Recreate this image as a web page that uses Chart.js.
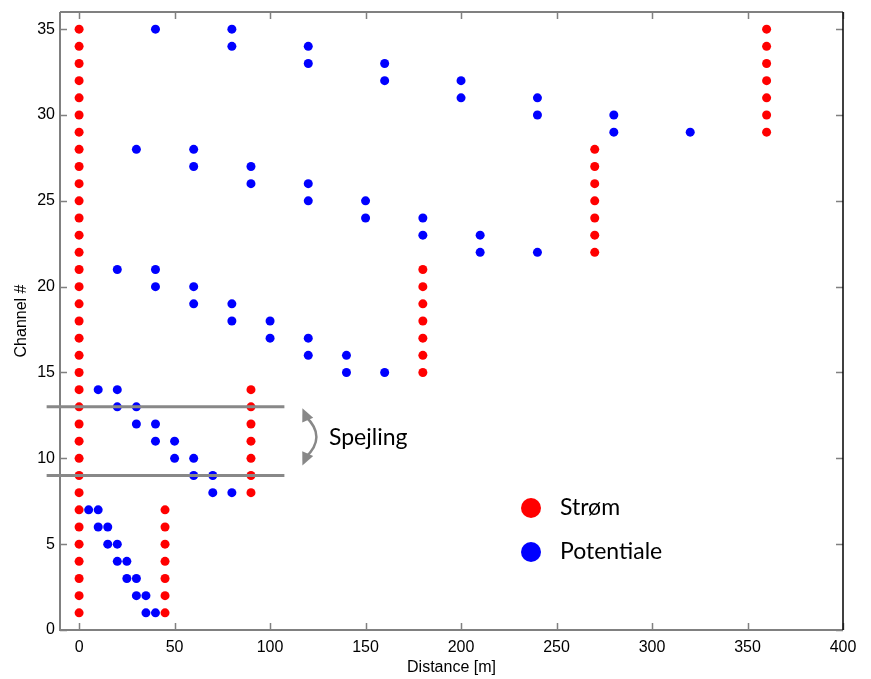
<!DOCTYPE html>
<html>
<head>
<meta charset="utf-8">
<script src="https://cdn.jsdelivr.net/npm/chart.js@4"></script>
<style>
  html, body { margin: 0; padding: 0; background: #fff; }
  #wrap { width: 871px; height: 679px; }
</style>
</head>
<body>
<div id="wrap"><canvas id="chart" width="871" height="679"></canvas></div>
<script>
// Strøm (current electrodes): distance and channel
const stromX = [
  0,0,0,0,0,0,0,0,0,0,0,0,0,0,0,0,0,0,0,0,0,0,0,0,0,0,0,0,0,0,0,0,0,0,0,
  45,45,45,45,45,45,45,
  90,90,90,90,90,90,90,
  180,180,180,180,180,180,180,
  270,270,270,270,270,270,270,
  360,360,360,360,360,360,360
];
const stromY = [
  1,2,3,4,5,6,7,8,9,10,11,12,13,14,15,16,17,18,19,20,21,22,23,24,25,26,27,28,29,30,31,32,33,34,35,
  1,2,3,4,5,6,7,
  8,9,10,11,12,13,14,
  15,16,17,18,19,20,21,
  22,23,24,25,26,27,28,
  29,30,31,32,33,34,35
];

// Potentiale: two potential electrodes per channel
const potX = [
  35,40, 30,35, 25,30, 20,25, 15,20, 10,15, 5,10,
  70,80, 60,70, 50,60, 40,50, 30,40, 20,30, 10,20,
  140,160, 120,140, 100,120, 80,100, 60,80, 40,60, 20,40,
  210,240, 180,210, 150,180, 120,150, 90,120, 60,90, 30,60,
  280,320, 240,280, 200,240, 160,200, 120,160, 80,120, 40,80
];
const potY = [
  1,1, 2,2, 3,3, 4,4, 5,5, 6,6, 7,7,
  8,8, 9,9, 10,10, 11,11, 12,12, 13,13, 14,14,
  15,15, 16,16, 17,17, 18,18, 19,19, 20,20, 21,21,
  22,22, 23,23, 24,24, 25,25, 26,26, 27,27, 28,28,
  29,29, 30,30, 31,31, 32,32, 33,33, 34,34, 35,35
];

const xTicks = [0, 50, 100, 150, 200, 250, 300, 350, 400];
const yTicks = [0, 5, 10, 15, 20, 25, 30, 35];
const mirrorLines = [13, 9];

const toPoints = (xs, ys) => xs.map((x, i) => ({ x: x, y: ys[i] }));

const frame = {
  id: 'frame',
  afterDraw(chart) {
    const c = chart.ctx, a = chart.chartArea;
    const xs = chart.scales.x, ys = chart.scales.y;
    c.save();
    // ticks pointing inward
    c.strokeStyle = '#808080';
    c.lineWidth = 1.5;
    c.beginPath();
    xTicks.forEach(v => {
      const px = Math.round(xs.getPixelForValue(v)) + 0.5;
      c.moveTo(px, a.bottom); c.lineTo(px, a.bottom - 7);
      c.moveTo(px, a.top); c.lineTo(px, a.top + 7);
    });
    yTicks.forEach(v => {
      const py = Math.round(ys.getPixelForValue(v)) + 0.5;
      c.moveTo(a.left, py); c.lineTo(a.left + 7, py);
      c.moveTo(a.right, py); c.lineTo(a.right - 7, py);
    });
    c.stroke();
    // box
    c.lineWidth = 2;
    c.strokeStyle = '#808080';
    c.beginPath();
    c.moveTo(a.left, a.top); c.lineTo(a.left, a.bottom); c.lineTo(a.right, a.bottom);
    c.moveTo(a.left, a.top); c.lineTo(a.right, a.top);
    c.stroke();
    c.strokeStyle = '#000';
    c.lineWidth = 1.5;
    c.beginPath();
    c.moveTo(a.right, a.top); c.lineTo(a.right, a.bottom);
    c.stroke();

    // mirror lines
    c.strokeStyle = '#888';
    c.lineWidth = 3;
    c.beginPath();
    mirrorLines.forEach(v => {
      const py = ys.getPixelForValue(v);
      c.moveTo(xs.getPixelForValue(-17), py);
      c.lineTo(xs.getPixelForValue(107.5), py);
    });
    c.stroke();

    // curved double arrow
    const y1 = ys.getPixelForValue(12.8), y2 = ys.getPixelForValue(9.7);
    const ax = xs.getPixelForValue(118.5);
    c.lineWidth = 2.5;
    c.strokeStyle = '#888';
    c.beginPath();
    c.moveTo(ax, y1 + 6);
    c.quadraticCurveTo(ax + 22, (y1 + y2) / 2, ax, y2 - 6);
    c.stroke();
    c.fillStyle = '#888';
    const head = (tx, ty, dx, dy) => {
      const len = 13, w = 6;
      const n = Math.hypot(dx, dy); dx /= n; dy /= n;
      c.beginPath();
      c.moveTo(tx, ty);
      c.lineTo(tx - dx * len - dy * w, ty - dy * len + dx * w);
      c.lineTo(tx - dx * len + dy * w, ty - dy * len - dx * w);
      c.closePath();
      c.fill();
    };
    head(ax - 3, y1 - 2, -0.45, -1);
    head(ax - 3, y2 + 2, -0.45, 1);

    c.fillStyle = '#000';
    c.font = '23px Lato';
    c.textBaseline = 'middle';
    c.textAlign = 'left';
    c.fillText('Spejling', 329, ys.getPixelForValue(11.2));

    // legend
    const lx = 531;
    [['Strøm', 'red', 508], ['Potentiale', 'blue', 552]].forEach(([t, col, ly]) => {
      c.fillStyle = col;
      c.beginPath(); c.arc(lx, ly, 10, 0, Math.PI * 2); c.fill();
      c.fillStyle = '#000';
      c.fillText(t, 560, ly);
    });
    c.restore();
  }
};

const ctx = document.getElementById('chart').getContext('2d');
const chart = new Chart(ctx, {
  type: 'scatter',
  data: {
    datasets: [
      { label: 'Strøm', data: toPoints(stromX, stromY), backgroundColor: '#ff0000', borderWidth: 0, pointRadius: 4.5 },
      { label: 'Potentiale', data: toPoints(potX, potY), backgroundColor: '#0000ff', borderWidth: 0, pointRadius: 4.5 }
    ]
  },
  options: {
    responsive: false,
    animation: false,
    layout: { padding: { top: 12, right: 28, left: 12, bottom: 0 } },
    plugins: { legend: { display: false }, tooltip: { enabled: false } },
    scales: {
      x: {
        type: 'linear', min: -10, max: 400,
        afterBuildTicks: s => { s.ticks = xTicks.map(v => ({ value: v })); },
        afterFit: s => { s.height = 49; s.paddingLeft = 0; s.paddingRight = 0; },
        grid: { display: false, drawTicks: false }, border: { display: false },
        ticks: { color: '#000', font: { family: 'Liberation Sans', size: 16 }, padding: 8, maxRotation: 0 },
        title: { display: true, text: 'Distance [m]', color: '#000', font: { family: 'Liberation Sans', size: 16 }, padding: { top: 0, bottom: 2 } }
      },
      y: {
        type: 'linear', min: 0, max: 36,
        afterBuildTicks: s => { s.ticks = yTicks.map(v => ({ value: v })); },
        afterFit: s => { s.width = 48; s.paddingTop = 0; s.paddingBottom = 0; },
        grid: { display: false, drawTicks: false }, border: { display: false },
        ticks: { color: '#000', font: { family: 'Liberation Sans', size: 16 }, padding: 5 },
        title: { display: true, text: 'Channel #', color: '#000', font: { family: 'Liberation Sans', size: 16 }, padding: { top: 0, bottom: 0 } }
      }
    }
  },
  plugins: [frame]
});
</script>
</body>
</html>
